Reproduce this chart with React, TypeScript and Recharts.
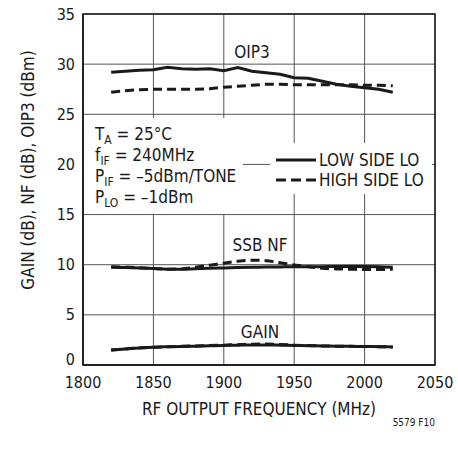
import React from 'react';
import {
  LineChart,
  Line,
  XAxis,
  YAxis,
  CartesianGrid,
  ReferenceArea,
} from 'recharts';

// values (every 10MHz)
const freqs = [
  1820, 1830, 1840, 1850, 1860, 1870, 1880, 1890, 1900, 1910, 1920,
  1930, 1940, 1950, 1960, 1970, 1980, 1990, 2000, 2010, 2020,
];
const oip3Low = [
  29.2, 29.3, 29.4, 29.45, 29.7, 29.55, 29.5, 29.55, 29.35, 29.65, 29.3,
  29.15, 29.0, 28.65, 28.6, 28.3, 28.0, 27.8, 27.65, 27.5, 27.2,
];
const oip3High = [
  27.2, 27.35, 27.45, 27.5, 27.5, 27.5, 27.5, 27.55, 27.7, 27.8, 27.9,
  28.0, 28.0, 27.95, 27.95, 27.95, 27.95, 27.95, 27.9, 27.9, 27.85,
];
const nfLow = [
  9.75, 9.72, 9.68, 9.62, 9.56, 9.55, 9.6, 9.65, 9.68, 9.72, 9.74,
  9.76, 9.78, 9.8, 9.8, 9.8, 9.82, 9.82, 9.82, 9.8, 9.75,
];
const nfHigh = [
  9.8, 9.75, 9.7, 9.62, 9.55, 9.58, 9.75, 9.95, 10.15, 10.35, 10.45,
  10.4, 10.2, 9.98, 9.8, 9.65, 9.58, 9.55, 9.52, 9.52, 9.55,
];
const gainLow = [
  1.5, 1.6, 1.7, 1.78, 1.82, 1.85, 1.88, 1.92, 1.95, 1.98, 2.0,
  2.0, 1.98, 1.95, 1.93, 1.9, 1.88, 1.86, 1.85, 1.83, 1.8,
];
const gainHigh = [
  1.5, 1.6, 1.7, 1.78, 1.82, 1.86, 1.9, 1.95, 1.98, 2.03, 2.08,
  2.1, 2.05, 1.98, 1.94, 1.9, 1.88, 1.86, 1.85, 1.83, 1.8,
];

const xTicks = [1800, 1850, 1900, 1950, 2000, 2050];
const yTicks = [0, 5, 10, 15, 20, 25, 30, 35];

const data = freqs.map((f, i) => ({
  f,
  oip3Low: oip3Low[i],
  oip3High: oip3High[i],
  nfLow: nfLow[i],
  nfHigh: nfHigh[i],
  gainLow: gainLow[i],
  gainHigh: gainHigh[i],
}));

const FONT = '"Liberation Sans Narrow", "DejaVu Sans Condensed", "Liberation Sans", sans-serif';
const INK = '#1a1a1a';
const DASH = '9 5';

// y tick: the "0" sits a bit higher so it clears the 1800 label
function YTick(props: any) {
  const { x, y, payload } = props;
  const lift = payload.value === 0 ? 6 : 0;
  return (
    <text x={x} y={y - lift} textAnchor="end" dominantBaseline="central" fontSize={16} fill={INK} fontFamily={FONT}>
      {payload.value}
    </text>
  );
}

export default function App() {
  const tick = { fontSize: 16, fill: INK, fontFamily: FONT };
  return (
    <div style={{ position: 'absolute', left: 0, top: 0, width: 458, height: 450, background: '#fff' }}>
      <LineChart width={458} height={450} data={data} margin={{ top: 14, right: 23, bottom: 55, left: 43 }}>
        <CartesianGrid stroke="#555" strokeWidth={1} />
        <XAxis
          dataKey="f"
          type="number"
          domain={[1800, 2050]}
          ticks={xTicks}
          height={30}
          tickSize={0}
          tickMargin={12}
          tick={tick}
          axisLine={{ stroke: INK, strokeWidth: 1.5 }}
          label={{ value: 'RF OUTPUT FREQUENCY (MHz)', position: 'bottom', offset: 8, fontSize: 17, fill: INK, fontFamily: FONT }}
        />
        <YAxis
          type="number"
          domain={[0, 35]}
          ticks={yTicks}
          width={40}
          tickSize={0}
          tickMargin={8}
          tick={<YTick />}
          axisLine={{ stroke: INK, strokeWidth: 1.5 }}
        />
        <ReferenceArea x1={1800} x2={2050} y1={0} y2={35} fill="none" stroke={INK} strokeWidth={1.5} />
        <Line dataKey="oip3Low" type="linear" stroke={INK} strokeWidth={3} dot={false} isAnimationActive={false} />
        <Line dataKey="oip3High" type="linear" stroke={INK} strokeWidth={3} strokeDasharray={DASH} dot={false} isAnimationActive={false} />
        <Line dataKey="nfLow" type="monotone" stroke={INK} strokeWidth={3} dot={false} isAnimationActive={false} />
        <Line dataKey="nfHigh" type="monotone" stroke={INK} strokeWidth={3} strokeDasharray={DASH} dot={false} isAnimationActive={false} />
        <Line dataKey="gainLow" type="monotone" stroke={INK} strokeWidth={3} dot={false} isAnimationActive={false} />
        <Line dataKey="gainHigh" type="monotone" stroke={INK} strokeWidth={3} strokeDasharray={DASH} dot={false} isAnimationActive={false} />
      </LineChart>

      {/* annotations, legend and axis title drawn over the chart */}
      <svg
        width={458}
        height={450}
        style={{ position: 'absolute', left: 0, top: 0, pointerEvents: 'none' }}
        fontFamily={FONT}
        fill={INK}
      >
        <text x={28} y={170} fontSize={17} textAnchor="middle" dominantBaseline="central" transform="rotate(-90 28 170)">
          GAIN (dB), NF (dB), OIP3 (dBm)
        </text>

        <text x={252} y={52} fontSize={17} textAnchor="middle" dominantBaseline="central">OIP3</text>
        <text x={260} y={245} fontSize={17} textAnchor="middle" dominantBaseline="central">SSB NF</text>
        <text x={260} y={332} fontSize={17} textAnchor="middle" dominantBaseline="central">GAIN</text>

        {/* conditions box */}
        <rect x={84} y={118} width={159} height={96} fill="#fff" />
        <text x={95} y={140} fontSize={17}>
          T<tspan fontSize={12} dy={4}>A</tspan><tspan dy={-4}> = 25°C</tspan>
        </text>
        <text x={95} y={161} fontSize={17}>
          f<tspan fontSize={12} dy={4}>IF</tspan><tspan dy={-4}> = 240MHz</tspan>
        </text>
        <text x={95} y={182} fontSize={17}>
          P<tspan fontSize={12} dy={4}>IF</tspan><tspan dy={-4}> = –5dBm/TONE</tspan>
        </text>
        <text x={95} y={203} fontSize={17}>
          P<tspan fontSize={12} dy={4}>LO</tspan><tspan dy={-4}> = –1dBm</tspan>
        </text>

        {/* legend */}
        <rect x={270} y={143} width={162} height={51} fill="#fff" />
        <line x1={276} x2={316} y1={160} y2={160} stroke={INK} strokeWidth={3} />
        <line x1={276} x2={316} y1={180} y2={180} stroke={INK} strokeWidth={3} strokeDasharray="10 5" />
        <text x={319} y={160} fontSize={17} dominantBaseline="central">LOW SIDE LO</text>
        <text x={319} y={180} fontSize={17} dominantBaseline="central">HIGH SIDE LO</text>

        <text x={435} y={426} fontSize={10} textAnchor="end">5579 F10</text>
      </svg>
    </div>
  );
}
